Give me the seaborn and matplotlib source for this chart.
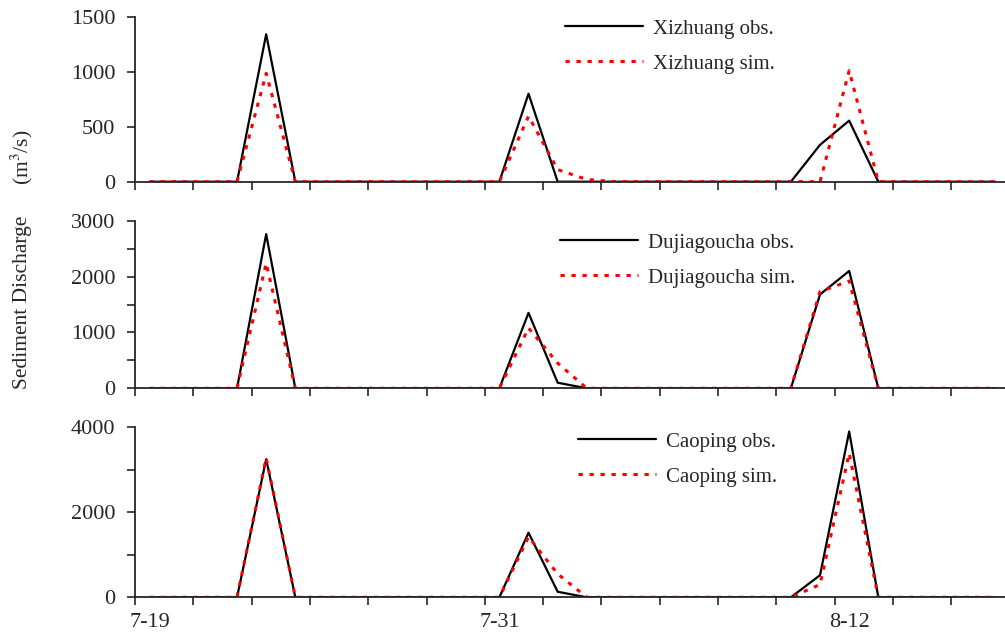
import numpy as np
import pandas as pd
import seaborn as sns
import matplotlib.pyplot as plt

# Daily values, 7-19 .. 8-17 (30 days)
days = ["7-19", "7-20", "7-21", "7-22", "7-23", "7-24", "7-25", "7-26", "7-27", "7-28",
        "7-29", "7-30", "7-31", "8-1", "8-2", "8-3", "8-4", "8-5", "8-6", "8-7",
        "8-8", "8-9", "8-10", "8-11", "8-12", "8-13", "8-14", "8-15", "8-16", "8-17"]

xizhuang_obs = [0, 0, 0, 0, 1340, 0, 0, 0, 0, 0, 0, 0, 0, 800, 0,
                0, 0, 0, 0, 0, 0, 0, 0, 335, 555, 0, 0, 0, 0, 0]
xizhuang_sim = [0, 0, 0, 0, 985, 0, 0, 0, 0, 0, 0, 0, 0, 595, 110,
                20, 0, 0, 0, 0, 0, 0, 0, 0, 1010, 0, 0, 0, 0, 0]
dujiagoucha_obs = [0, 0, 0, 0, 2760, 0, 0, 0, 0, 0, 0, 0, 0, 1350, 100,
                   0, 0, 0, 0, 0, 0, 0, 0, 1680, 2100, 0, 0, 0, 0, 0]
dujiagoucha_sim = [0, 0, 0, 0, 2240, 0, 0, 0, 0, 0, 0, 0, 0, 1080, 450,
                   0, 0, 0, 0, 0, 0, 0, 0, 1730, 1920, 0, 0, 0, 0, 0]
caoping_obs = [0, 0, 0, 0, 3250, 0, 0, 0, 0, 0, 0, 0, 0, 1520, 130,
               0, 0, 0, 0, 0, 0, 0, 0, 520, 3900, 0, 0, 0, 0, 0]
caoping_sim = [0, 0, 0, 0, 3280, 0, 0, 0, 0, 0, 0, 0, 0, 1420, 550,
               0, 0, 0, 0, 0, 0, 0, 0, 300, 3390, 0, 0, 0, 0, 0]

stations = ["Xizhuang", "Dujiagoucha", "Caoping"]
obs_series = [xizhuang_obs, dujiagoucha_obs, caoping_obs]
sim_series = [xizhuang_sim, dujiagoucha_sim, caoping_sim]
y_max = [1500, 3000, 4000]
y_major = [500, 1000, 2000]
y_minor = [500, 500, 1000]
tick_labels = ["7-19", "7-31", "8-12"]

sns.set_style("ticks")
plt.rcParams['font.family'] = ['Liberation Serif', 'DejaVu Serif']
plt.rcParams['font.size'] = 15
plt.rcParams['mathtext.fontset'] = 'stix'

W, H = 1005, 642
fig = plt.figure(figsize=(W / 100, H / 100), dpi=100)

# (top px of y max, px of zero) for each panel
panel_px = [(16.7, 181.7), (220.7, 388.3), (427.3, 597.3)]
legend_px = [(565, 19), (560, 233), (578, 432)]
x_left, x_right = 135, 1009.5

# category centres (Excel "between tick marks")
pos = np.arange(len(days)) + 0.5

for k, name in enumerate(stations):
    top, zero = panel_px[k]
    ax = fig.add_axes([x_left / W, 1 - zero / H, (x_right - x_left) / W, (zero - top) / H])
    df = pd.DataFrame({"x": pos, "obs": obs_series[k], "sim": sim_series[k]})
    sns.lineplot(data=df, x="x", y="obs", ax=ax, color="black", lw=1.6,
                 label=f"{name} obs.")
    sns.lineplot(data=df, x="x", y="sim", ax=ax, color="red", lw=2.2,
                 linestyle=(0, (1.4, 2.2)), label=f"{name} sim.")
    ax.set_xlim(0, len(days))
    ax.set_ylim(0, y_max[k])
    ax.set_xlabel("")
    ax.set_ylabel("")
    sns.despine(ax=ax)
    ax.spines['left'].set_linewidth(1.3)
    ax.spines['bottom'].set_linewidth(1.3)
    ax.set_yticks(np.arange(0, y_max[k] + 1, y_major[k]))
    ax.set_yticks(np.arange(0, y_max[k] + 1, y_minor[k]), minor=True)
    ax.tick_params(axis='y', which='both', direction='out', length=6, width=1.2, pad=8)
    ax.set_xticks(np.arange(0, len(days), 2))
    ax.set_xticklabels([])
    ax.tick_params(axis='x', which='major', direction='out', length=6, width=1.2)
    if k == 2:
        ax.set_xticks([days.index(t) + 0.5 for t in tick_labels], minor=True)
        ax.set_xticklabels(tick_labels, minor=True, fontsize=16)
        ax.tick_params(axis='x', which='minor', length=0, pad=11)
    else:
        ax.set_xticks([], minor=True)
    for t in ax.get_yticklabels():
        t.set_fontsize(16)
    lx, ly = legend_px[k]
    ax.legend(loc='upper left', bbox_to_anchor=(lx / W, 1 - ly / H),
              bbox_transform=fig.transFigure, frameon=False, borderpad=0,
              borderaxespad=0, handlelength=3.75, handletextpad=0.45,
              labelspacing=0.75, fontsize=15)

fig.text(22 / W, 1 - 302 / H, "Sediment Discharge", rotation=90,
         ha='center', va='center', fontsize=15.5)
fig.text(22 / W, 1 - 157 / H, "(m$^3$/s)", rotation=90,
         ha='center', va='center', fontsize=15.5)

fig.savefig("out.png", dpi=100)
